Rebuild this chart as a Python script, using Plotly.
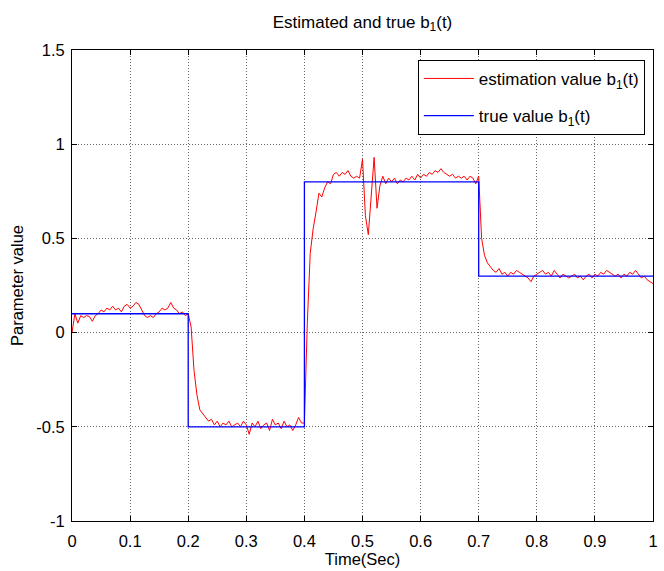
import plotly.graph_objects as go

# Estimated b1(t), sampled every 0.005 s from t=0 to t=1
est_vals = [
    # 0.000 - 0.195
    0.00, 0.10, 0.05, 0.09, 0.08, 0.09, 0.085, 0.06, 0.09, 0.10,
    0.12, 0.11, 0.13, 0.12, 0.14, 0.12, 0.13, 0.11, 0.14, 0.15,
    0.13, 0.14, 0.16, 0.15, 0.12, 0.09, 0.08, 0.09, 0.08, 0.10,
    0.11, 0.13, 0.12, 0.13, 0.16, 0.13, 0.12, 0.10, 0.11, 0.09,
    # 0.200 - 0.395
    0.10, 0.03, -0.20, -0.33, -0.41, -0.43, -0.45, -0.47, -0.46, -0.49,
    -0.47, -0.50, -0.48, -0.49, -0.47, -0.50, -0.49, -0.48, -0.50, -0.47,
    -0.49, -0.54, -0.48, -0.50, -0.47, -0.51, -0.49, -0.48, -0.52, -0.46,
    -0.49, -0.48, -0.51, -0.47, -0.50, -0.49, -0.52, -0.49, -0.45, -0.48,
    # 0.400 - 0.695
    -0.48, 0.05, 0.42, 0.55, 0.64, 0.74, 0.72, 0.77, 0.80, 0.79,
    0.84, 0.85, 0.83, 0.85, 0.84, 0.86, 0.83, 0.82, 0.83, 0.82,
    0.92, 0.62, 0.52, 0.75, 0.93, 0.66, 0.78, 0.83, 0.79, 0.82,
    0.80, 0.82, 0.79, 0.81, 0.80, 0.82, 0.81, 0.83, 0.81, 0.84,
    0.82, 0.84, 0.83, 0.85, 0.84, 0.86, 0.85, 0.87, 0.85, 0.84,
    0.83, 0.84, 0.82, 0.83, 0.82, 0.83, 0.81, 0.83, 0.82, 0.79,
    # 0.700 - 1.000
    0.83, 0.50, 0.41, 0.37, 0.35, 0.33, 0.32, 0.34, 0.31, 0.32,
    0.30, 0.32, 0.31, 0.33, 0.32, 0.31, 0.30, 0.29, 0.27, 0.30,
    0.31, 0.32, 0.33, 0.31, 0.32, 0.30, 0.33, 0.31, 0.29, 0.31,
    0.30, 0.29, 0.30, 0.31, 0.29, 0.30, 0.28, 0.30, 0.31, 0.29,
    0.31, 0.30, 0.32, 0.31, 0.33, 0.32, 0.31, 0.30, 0.31, 0.29,
    0.31, 0.30, 0.32, 0.31, 0.33, 0.31, 0.29, 0.30, 0.28, 0.27,
    0.26,
]
est_time = [round(i * 0.005, 3) for i in range(len(est_vals))]

# True b1(t): piecewise constant
true_time = [0.0, 0.2, 0.4, 0.7, 1.0]
true_vals = [0.1, -0.5, 0.8, 0.3, 0.3]

x_ticks = [0, 0.1, 0.2, 0.3, 0.4, 0.5, 0.6, 0.7, 0.8, 0.9, 1]
x_labels = ["0", "0.1", "0.2", "0.3", "0.4", "0.5", "0.6", "0.7", "0.8", "0.9", "1"]
y_ticks = [-1, -0.5, 0, 0.5, 1, 1.5]
y_labels = ["-1", "-0.5", "0", "0.5", "1", "1.5"]

FONT = "Liberation Sans, Arial, Helvetica, sans-serif"
FS = 16.5

fig = go.Figure()
fig.add_trace(go.Scatter(
    x=est_time, y=est_vals, mode="lines",
    line=dict(color="#ff0000", width=1),
    name="estimation value b<sub>1</sub>(t)", legendgroup="est",
))
fig.add_trace(go.Scatter(
    x=true_time, y=true_vals, mode="lines",
    line=dict(color="#0000ff", width=1.3, shape="hv"),
    name="true value b<sub>1</sub>(t)", legendgroup="true",
))

axis_common = dict(
    showline=True, linecolor="black", linewidth=1, mirror="ticks",
    ticks="inside", ticklen=5, tickcolor="black",
    showgrid=True, gridcolor="#666666", griddash="1px,2px", gridwidth=1,
    zeroline=False, tickfont=dict(family=FONT, size=FS, color="black"),
)

fig.update_layout(
    width=664, height=571,
    margin=dict(l=72, r=6, t=50, b=50),
    paper_bgcolor="white", plot_bgcolor="white",
    font=dict(family=FONT, size=FS, color="black"),
    title=dict(text="Estimated and true b<sub>1</sub>(t)", x=0.5, xanchor="center",
               xref="paper", y=0.962, yanchor="middle",
               font=dict(family=FONT, size=17, color="black")),
    xaxis=dict(range=[0, 1], tickvals=x_ticks, ticktext=x_labels,
               ticklabelstandoff=5,
               title=dict(text="Time(Sec)", standoff=2, font=dict(family=FONT, size=FS)),
               **axis_common),
    yaxis=dict(range=[-1, 1.5], tickvals=y_ticks, ticktext=y_labels,
               ticklabelstandoff=3,
               title=dict(text="Parameter value", standoff=8, font=dict(family=FONT, size=FS)),
               **axis_common),
    legend=dict(x=0.986, y=0.979, xanchor="right", yanchor="top",
                bgcolor="white", bordercolor="black", borderwidth=1,
                font=dict(family=FONT, size=17, color="black"),
                itemwidth=50, tracegroupgap=12, traceorder="grouped"),
    showlegend=True,
)

fig.write_html("out.html")
